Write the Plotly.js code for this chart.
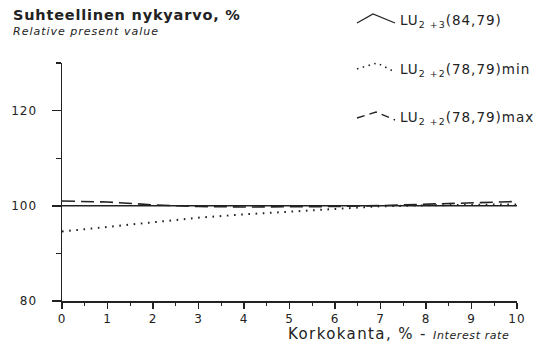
<!DOCTYPE html>
<html>
<head>
<meta charset="utf-8">
<script src="https://cdn.plot.ly/plotly-3.0.1.min.js"></script>
<style>
  html, body { margin: 0; padding: 0; background: #fff; }
  #chart { width: 536px; height: 344px; }
  .xtick text, .ytick text { letter-spacing: 1px; }
</style>
</head>
<body>
<div id="chart"></div>
<script>
// Interest rate, %
const rates = [0, 1, 2, 3, 4, 5, 6, 7, 8, 9, 10];
// Relative present value, %
const lu23 = [100, 100, 100, 100, 100, 100, 100, 100, 100, 100, 100];
const lu22min = [94.6, 95.6, 96.6, 97.5, 98.2, 98.8, 99.35, 99.9, 100.1, 100.2, 100.3];
const lu22max = [101.0, 100.8, 100.2, 99.85, 99.75, 99.75, 99.85, 100.05, 100.35, 100.65, 100.9];

const xTickVals = [0, 1, 2, 3, 4, 5, 6, 7, 8, 9, 10];
const yTickVals = [80, 100, 120];

const seriesLabels = [
  'LU<sub>2 +3</sub>(84,79)',
  'LU<sub>2 +2</sub>(78,79)min',
  'LU<sub>2 +2</sub>(78,79)max'
];

const INK = '#222';
const W = 536, H = 344;
const M = { l: 62, r: 19, t: 63, b: 43 };
// pixel -> paper coordinates
const px = x => (x - M.l) / (W - M.l - M.r);
const py = y => (H - M.b - y) / (H - M.t - M.b);
const spaced = (s, ls) => '<span style="letter-spacing:' + ls + 'px">' + s + '</span>';

const traces = [
  { x: rates, y: lu23, mode: 'lines', line: { color: INK, width: 1.5 } },
  { x: rates, y: lu22min, mode: 'lines', line: { color: INK, width: 2, dash: '1.6px,5.6px' } },
  { x: rates, y: lu22max, mode: 'lines', line: { color: INK, width: 1.6, dash: '13px,6px' } }
].map(t => Object.assign(t, { showlegend: false, hoverinfo: 'skip' }));

const font = { family: 'DejaVu Sans, sans-serif', color: INK };

// legend keys drawn by hand
const keyPaths = [
  { d: [[357, 23], [373, 14], [395, 23]], dash: 'solid', w: 1.3 },
  { d: [[357, 69], [377, 63], [395, 72]], dash: '1.5px,4.5px', w: 1.6 },
  { d: [[357, 118], [376, 112], [395, 120]], dash: '8px,5px', w: 1.4 }
];
const shapes = keyPaths.map(k => ({
  type: 'path', xref: 'paper', yref: 'paper',
  path: 'M' + k.d.map(p => px(p[0]) + ',' + py(p[1])).join(' L'),
  line: { color: INK, width: k.w, dash: k.dash }
}));
// short run of the x axis line left of the y axis
shapes.push({
  type: 'line', xref: 'paper', yref: 'paper',
  x0: px(57), x1: 0, y0: 0, y1: 0,
  line: { color: INK, width: 1.5 }
});

const legendY = [21, 70, 118];
const annotations = [
  { text: '<b>' + spaced('Suhteellinen nykyarvo, %', 0.8) + '</b>', x: px(11), y: py(15), size: 14.5 },
  { text: '<i>' + spaced('Relative present value', 1) + '</i>', x: px(11), y: py(31), size: 11 },
  { text: spaced('Korkokanta, % - ', 1.4) +
          '<i><span style="font-size:11px;letter-spacing:0.6px">Interest rate</span></i>',
    x: px(286), y: py(334), size: 15 }
].concat(seriesLabels.map((s, i) => ({ text: spaced(s, 1), x: px(398), y: py(legendY[i]), size: 13.5 })))
 .map(a => ({
   text: a.text, x: a.x, y: a.y, xref: 'paper', yref: 'paper',
   xanchor: 'left', yanchor: 'middle', showarrow: false,
   font: Object.assign({}, font, { size: a.size })
 }));

const axisCommon = {
  showline: true, linecolor: INK, linewidth: 1.5,
  showgrid: false, zeroline: false,
  ticks: 'outside', tickcolor: INK, tickwidth: 1.5,
  tickfont: Object.assign({}, font, { size: 12 }),
  fixedrange: true
};

const layout = {
  width: W, height: H,
  margin: M,
  paper_bgcolor: '#fff', plot_bgcolor: '#fff',
  showlegend: false,
  xaxis: Object.assign({}, axisCommon, {
    range: [0, 10], tickvals: xTickVals, ticklen: 6,
    minor: { dtick: 0.5, tick0: 0, ticklen: 3, tickcolor: INK, tickwidth: 1.3, ticks: 'outside' }
  }),
  yaxis: Object.assign({}, axisCommon, {
    range: [80, 130], tickvals: yTickVals, ticklen: 9, ticklabelstandoff: 12,
    minor: { dtick: 10, tick0: 80, ticklen: 5, tickcolor: INK, tickwidth: 1.3, ticks: 'outside' }
  }),
  shapes: shapes,
  annotations: annotations
};

Plotly.newPlot('chart', traces, layout, { staticPlot: true, displayModeBar: false });
</script>
</body>
</html>
